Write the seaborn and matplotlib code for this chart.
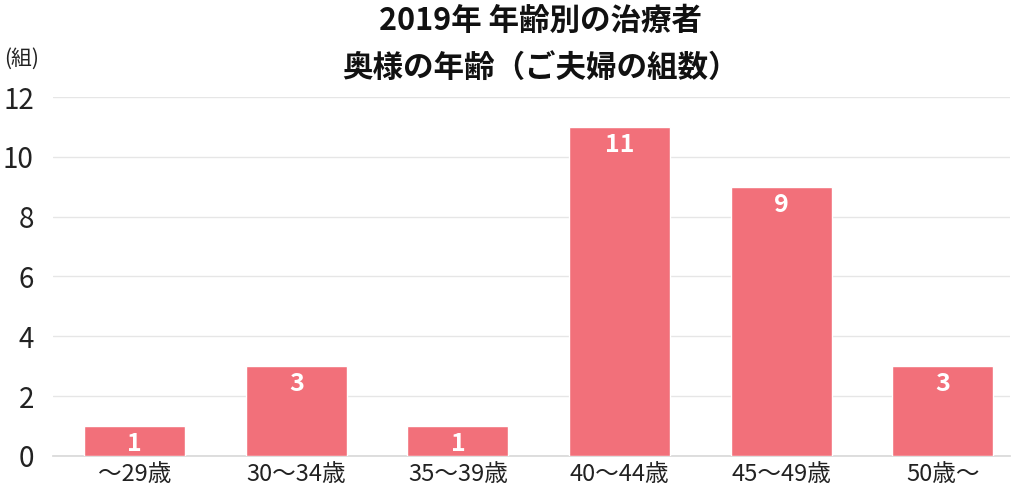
import matplotlib
matplotlib.use("Agg")
import matplotlib.pyplot as plt
import seaborn as sns
import pandas as pd

categories = ["～29歳", "30～34歳", "35～39歳", "40～44歳", "45～49歳", "50歳～"]
counts = [1, 3, 1, 11, 9, 3]
y_ticks = [0, 2, 4, 6, 8, 10, 12]
title_lines = ["2019年 年齢別の治療者", "奥様の年齢（ご夫婦の組数）"]
unit_label = "(組)"

sns.set_theme(style="white")
plt.rcParams["font.family"] = ["Noto Sans CJK JP", "DejaVu Sans"]

df = pd.DataFrame({"age": categories, "count": counts})

fig = plt.figure(figsize=(10.24, 4.88), dpi=100)
ax = fig.add_axes([0.052, 0.066, 0.934, 0.735])

sns.barplot(data=df, x="age", y="count", color="#F2707A", saturation=1,
            width=0.625, ax=ax, zorder=3)

for i, v in enumerate(counts):
    ax.text(i, v - 0.2, str(v), ha="center", va="top", color="white",
            fontsize=18, fontweight="bold", zorder=4)

ax.set_ylim(0, 12)
ax.set_xlim(-0.504, 5.414)
ax.set_yticks(y_ticks)
ax.yaxis.grid(True, color="#e6e6e6", linewidth=1, zorder=0)
ax.set_xlabel("")
ax.set_ylabel("")
for s in ["top", "right", "left"]:
    ax.spines[s].set_visible(False)
ax.spines["bottom"].set_color("#d9d9d9")
ax.tick_params(axis="y", labelsize=20, pad=14, length=0, colors="#222222")
ax.tick_params(axis="x", labelsize=17, pad=5, length=0, colors="#222222")

fig.text(0.528, 0.957, title_lines[0], ha="center", va="center",
         fontsize=22, fontweight="bold", color="#111111")
fig.text(0.528, 0.86, title_lines[1], ha="center", va="center",
         fontsize=22, fontweight="bold", color="#111111")
fig.text(0.004, 0.88, unit_label, ha="left", va="center", fontsize=15,
         color="#222222")

fig.savefig("out.png", dpi=100)
